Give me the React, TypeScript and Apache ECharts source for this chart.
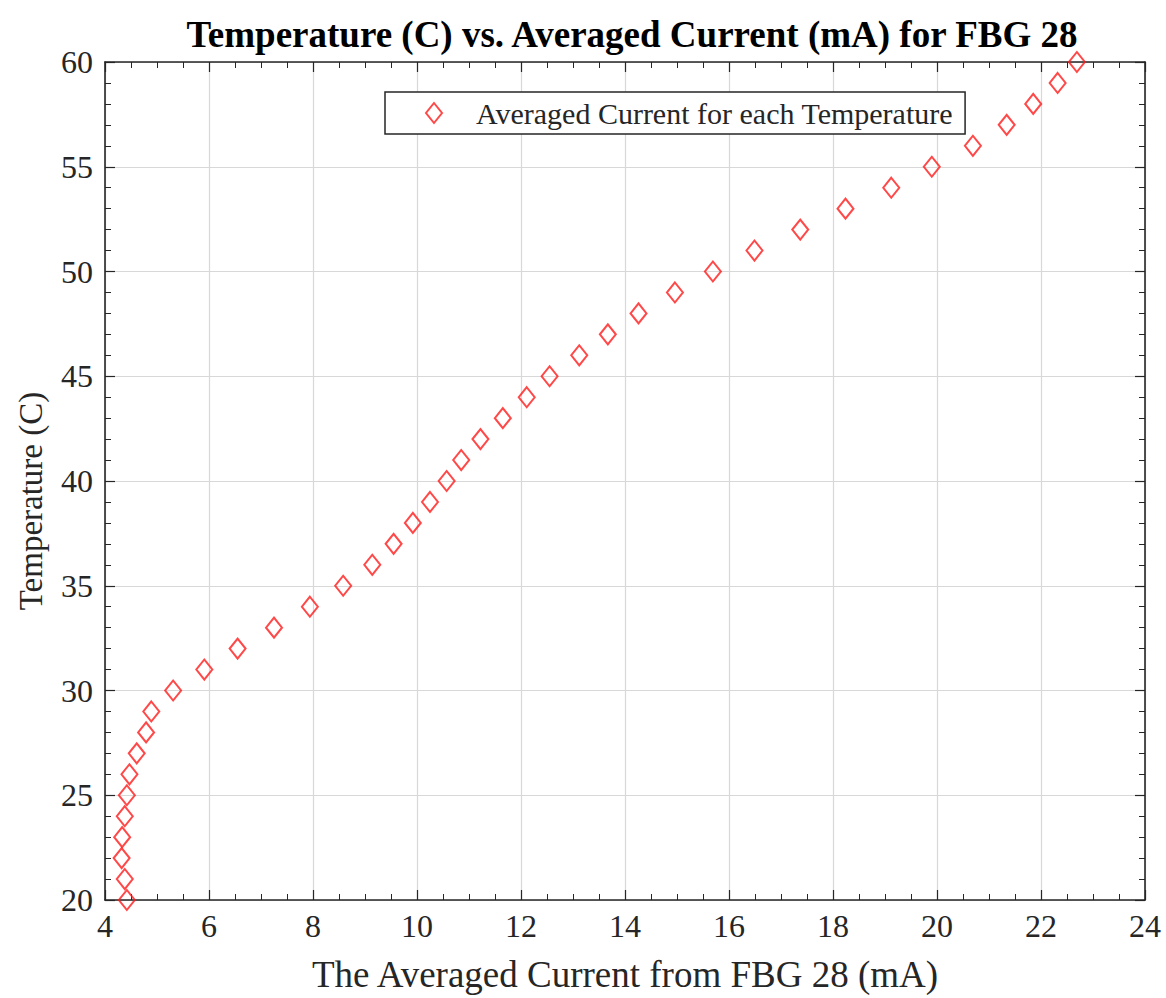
import React, { useEffect, useRef } from "react";
import * as echarts from "echarts";

const temperatures: number[] = [
  20, 21, 22, 23, 24, 25, 26, 27, 28, 29,
  30, 31, 32, 33, 34, 35, 36, 37, 38, 39,
  40, 41, 42, 43, 44, 45, 46, 47, 48, 49,
  50, 51, 52, 53, 54, 55, 56, 57, 58, 59, 60,
];

const averagedCurrent: number[] = [
  4.42, 4.38, 4.32, 4.33, 4.38, 4.42, 4.47, 4.61, 4.79, 4.89,
  5.31, 5.91, 6.55, 7.25, 7.94, 8.58, 9.14, 9.55, 9.92, 10.25,
  10.57, 10.85, 11.22, 11.65, 12.11, 12.55, 13.12, 13.67, 14.26, 14.96,
  15.69, 16.49, 17.37, 18.24, 19.12, 19.9, 20.69, 21.34, 21.85, 22.32, 22.69,
];

const xTicks = { min: 4, max: 24, interval: 2 };
const yTicks = { min: 20, max: 60, interval: 5 };

const titleText = "Temperature (C) vs. Averaged Current (mA) for FBG 28";
const xName = "The Averaged Current from FBG 28 (mA)";
const yName = "Temperature (C)";
const seriesName = "Averaged Current for each Temperature";

const FONT = '"Liberation Serif", "Times New Roman", Times, serif';
const AXIS_COLOR = "#262626";
const RED = "#ff1a1a";

export default function App() {
  const ref = useRef<HTMLDivElement>(null);

  useEffect(() => {
    if (!ref.current) return;
    const chart = echarts.init(ref.current, undefined, { renderer: "svg" });
    const points = averagedCurrent.map((c, i) => [c, temperatures[i]]);

    const baseAxis = {
      axisLine: { show: true, onZero: false, lineStyle: { color: AXIS_COLOR, width: 1.6 } },
      axisTick: { show: true, inside: true, length: 10, lineStyle: { color: AXIS_COLOR, width: 1.2 } },
      minorTick: { show: true, length: 6, lineStyle: { color: AXIS_COLOR, width: 1 } },
    };

    chart.setOption({
      animation: false,
      backgroundColor: "#ffffff",
      title: {
        text: titleText,
        left: 627,
        top: 11,
        textAlign: "center",
        textStyle: { fontFamily: FONT, fontWeight: "bold", fontSize: 37, color: "#000" },
      },
      legend: {
        left: 385,
        top: 92,
        orient: "horizontal",
        backgroundColor: "#fff",
        borderColor: AXIS_COLOR,
        borderWidth: 1.5,
        borderRadius: 0,
        padding: [4, 12, 4, 40],
        itemWidth: 16,
        itemHeight: 20,
        icon: "diamond",
        itemStyle: { color: "rgba(255,255,255,0)", borderColor: RED, borderWidth: 2 },
        textStyle: {
          fontFamily: FONT,
          fontSize: 30,
          color: AXIS_COLOR,
          padding: [0, 0, 0, 29],
          lineHeight: 34,
        },
        data: [seriesName],
      },
      grid: { left: 105, top: 62, width: 1040, height: 840, containLabel: false },
      xAxis: [
        {
          type: "value",
          position: "bottom",
          min: xTicks.min,
          max: xTicks.max,
          interval: xTicks.interval,
          ...baseAxis,
          minorTick: { ...baseAxis.minorTick, splitNumber: 4 },
          axisLabel: { fontFamily: FONT, fontSize: 32, color: AXIS_COLOR, margin: 10 },
          splitLine: { show: true, lineStyle: { color: "#d8d8d8", width: 1.2 } },
          name: xName,
          nameLocation: "middle",
          nameGap: 56,
          nameTextStyle: { fontFamily: FONT, fontSize: 37, color: AXIS_COLOR },
        },
        {
          type: "value",
          position: "top",
          min: xTicks.min,
          max: xTicks.max,
          interval: xTicks.interval,
          ...baseAxis,
          minorTick: { ...baseAxis.minorTick, splitNumber: 4 },
          axisLabel: { show: false },
          splitLine: { show: false },
        },
      ],
      yAxis: [
        {
          type: "value",
          position: "left",
          min: yTicks.min,
          max: yTicks.max,
          interval: yTicks.interval,
          ...baseAxis,
          minorTick: { ...baseAxis.minorTick, splitNumber: 5 },
          axisLabel: { fontFamily: FONT, fontSize: 32, color: AXIS_COLOR, margin: 12 },
          splitLine: { show: true, lineStyle: { color: "#d8d8d8", width: 1.2 } },
          name: yName,
          nameLocation: "middle",
          nameGap: 58,
          nameRotate: 90,
          nameTextStyle: { fontFamily: FONT, fontSize: 33, color: AXIS_COLOR, padding: [0, 40, 0, 0] },
        },
        {
          type: "value",
          position: "right",
          min: yTicks.min,
          max: yTicks.max,
          interval: yTicks.interval,
          ...baseAxis,
          minorTick: { ...baseAxis.minorTick, splitNumber: 5 },
          axisLabel: { show: false },
          splitLine: { show: false },
        },
      ],
      series: [
        {
          name: seriesName,
          type: "scatter",
          xAxisIndex: 0,
          yAxisIndex: 0,
          data: points,
          symbol: "diamond",
          symbolSize: [16, 20],
          clip: false,
          itemStyle: { color: "rgba(255,255,255,0)", borderColor: RED, borderWidth: 2 },
          emphasis: { disabled: true },
        },
      ],
    });

    return () => chart.dispose();
  }, []);

  return (
    <div
      ref={ref}
      style={{ position: "fixed", left: 0, top: 0, width: 1166, height: 998, background: "#fff" }}
    />
  );
}
